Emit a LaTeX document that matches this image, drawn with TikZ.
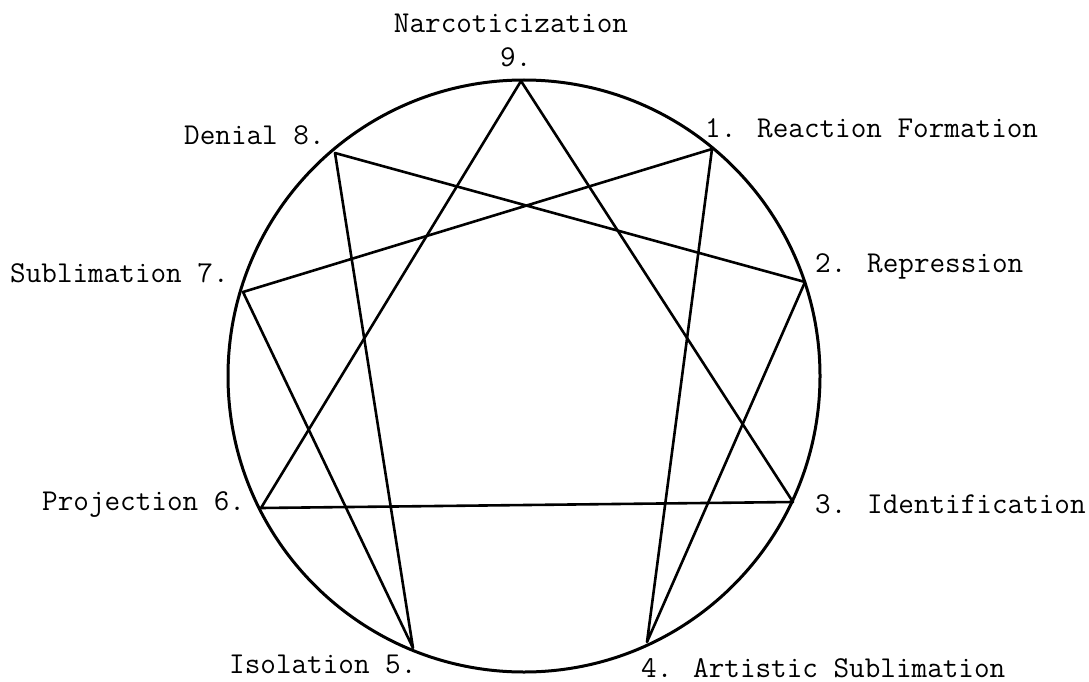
\documentclass[tikz,border=0pt]{standalone}
\begin{document}
\begin{tikzpicture}[x=1pt,y=-1pt,
  lbl/.style={font=\ttfamily\fontsize{30.3}{34}\selectfont,inner sep=0pt},
  ray/.style={line width=2.6pt,line join=round}]
\useasboundingbox (0,0) rectangle (1089,682);
\coordinate (c) at (524,376);
\draw[line width=3pt] (c) circle[radius=296pt];

\coordinate (p9) at (521,81);
\coordinate (p1) at (712,149);
\coordinate (p2) at (805,282);
\coordinate (p3) at (793,502);
\coordinate (p4) at (647,642);
\coordinate (p5) at (413,648);
\coordinate (p6) at (261,508);
\coordinate (p7) at (243,292);
\coordinate (p8) at (335,153);

\draw[ray] (p9) -- (p3) -- (p6) -- cycle;
\draw[ray] (p1) -- (p4) -- (p2) -- (p8) -- (p5) -- (p7) -- cycle;

\node[lbl,anchor=base] (n9) at (511,33) {Narcoticization};
\node[lbl,anchor=base west] (l9) at (500,67) {9.};
\node[lbl,anchor=base west] (l1) at (705,138) {1. Reaction Formation};
\node[lbl,anchor=base west] (l8) at (184,145) {Denial 8.};
\node[lbl,anchor=base west] (l7) at (10,282) {Sublimation 7.};
\node[lbl,anchor=base west] (l2) at (815,272) {2. Repression};
\node[lbl,anchor=base west] (l6) at (42,510) {Projection 6.};
\node[lbl,anchor=base west] (l3) at (815,513) {3. Identification};
\node[lbl,anchor=base west] (l5) at (229,673) {Isolation 5.};
\node[lbl,anchor=base west] (l4) at (641,677) {4. Artistic Sublimation};
\end{tikzpicture}
\end{document}
